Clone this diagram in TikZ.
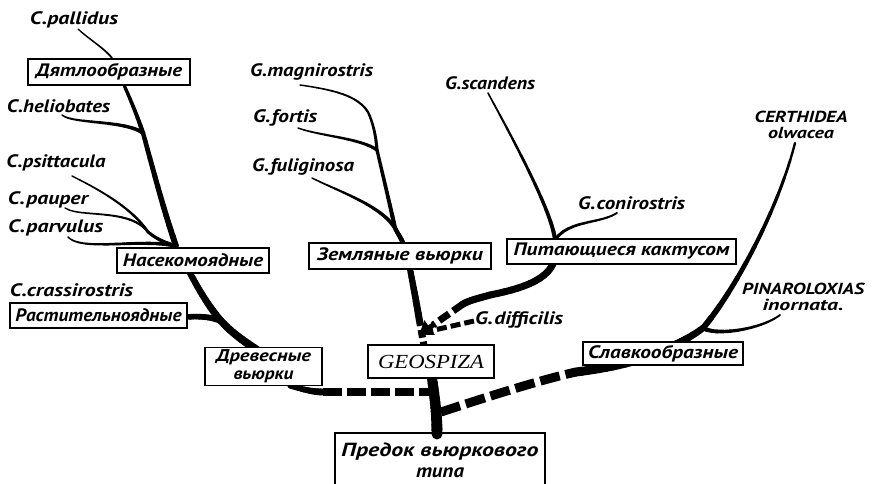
\documentclass[tikz,border=0pt]{standalone}
\usepackage{fontspec}
\usepackage{graphicx}
\setmainfont{PT Sans}
\newfontfamily\geofont{Liberation Serif}
\usetikzlibrary{arrows.meta}
\newcommand\fw[2]{\resizebox{#1pt}{\height}{#2}}
\newcommand\tcurve[8]{%
  \foreach \i in {0,...,11}{%
    \pgfmathsetmacro\ta{\i/12}%
    \pgfmathsetmacro\tb{(\i+1)/12}%
    \pgfmathsetmacro\w{#7+(#8-#7)*(\i+0.5)/12}%
    \pgfsetlinewidth{\w pt}\pgfsetroundcap
    \pgfpathcurvebetweentime{\ta}{\tb}{\pgfpointanchor{#1}{center}}{\pgfpointxy{#2}{#3}}{\pgfpointxy{#4}{#5}}{\pgfpointanchor{#6}{center}}%
    \pgfusepath{stroke}}}
\begin{document}
\begin{tikzpicture}[x=1pt,y=-1pt,
  lbl/.style={font=\fontsize{18}{19}\selectfont\bfseries\itshape, inner sep=0pt},
  box/.style={draw, line width=1.3pt, fill=white, font=\fontsize{18}{17}\selectfont\bfseries\itshape, inner sep=1pt},
  dsh/.style={line cap=butt},
]
\useasboundingbox (0,0) rectangle (875,484);

% ---------- labels ----------
\node[lbl] (pallidus) at (74,20) {\fw{88}{C.pallidus}};
\node[lbl] (helio) at (58.5,106) {\fw{103}{C.heliobates}};
\node[lbl] (psitt) at (56,163) {\fw{99}{C.psittacula}};
\node[lbl] (pauper) at (48,200) {\fw{80}{C.\kern1pt pauper}};
\node[lbl] (parv) at (55.5,228) {\fw{95}{C.\kern1pt parvulus}};
\node[lbl] (crass) at (71.5,290) {\fw{123}{C.crassirostris}};
\node[lbl] (magn) at (311.5,72) {\fw{123}{G.magnirostris}};
\node[lbl] (fort) at (285,118) {\fw{64}{G.\kern1pt fortis}};
\node[lbl] (fulig) at (303,167) {\fw{102}{G.\kern1pt fuliginosa}};
\node[lbl] (scand) at (490,83) {\fw{90}{G.scandens}};
\node[lbl] (conir) at (631.5,203) {\fw{107}{G.\kern1pt conirostris}};
\node[lbl] (diff) at (519,320) {\fw{88}{G.\kern1pt difficilis}};
\node[lbl, align=center, font=\fontsize{16}{16}\selectfont\bfseries\itshape] (cert) at (801,125) {\fw{93}{CERTHIDEA}\\\fw{66}{olwacea}};
\node[lbl, align=center, font=\fontsize{16}{16}\selectfont\bfseries\itshape] (pina) at (803,297) {\fw{122}{PINAROLOXIAS}\\\fw{81}{inornata.}};

% ---------- coordinates ----------
\coordinate (pal0) at (78,29);
\coordinate (pal1) at (112,58);
\coordinate (dyB) at (124,85);
\coordinate (jH) at (143,133);
\coordinate (jN) at (176,246);
\coordinate (nB) at (190,273);
\coordinate (jR) at (221,321);
\coordinate (dT) at (257,350);
\coordinate (he0) at (62,115);
\coordinate (ps0) at (72,176);
\coordinate (pa0) at (65,208);
\coordinate (pv0) at (68,237);
\coordinate (jP) at (148,232);
\coordinate (rR) at (187,317);
\coordinate (dBR) at (290,386);
\coordinate (dD) at (323,392);
\coordinate (tD) at (430,392);
\coordinate (mg0) at (300,85);
\coordinate (mg1) at (368,112);
\coordinate (jF) at (377,150);
\coordinate (jG) at (395,228);
\coordinate (zT) at (403,243);
\coordinate (zB) at (410,269);
\coordinate (zS) at (419,318);
\coordinate (gT) at (424,346);
\coordinate (fo0) at (298,128);
\coordinate (fu0) at (312,178);
\coordinate (sc0) at (488,93);
\coordinate (kT) at (555,240);
\coordinate (co0) at (617,213);
\coordinate (kB) at (553,264);
\coordinate (kM) at (490,295);
\coordinate (kS) at (463,304);
\coordinate (kA) at (433,325);
\coordinate (tip) at (419,335);
\coordinate (df0) at (474,321);
\coordinate (df1) at (430,331);
\coordinate (gB) at (432,378);
\coordinate (aT) at (437,434);
\coordinate (tW) at (441,412);
\coordinate (wS) at (576,372);
\coordinate (wM) at (650,356);
\coordinate (jPi) at (703,328);
\coordinate (ce0) at (795,143);
\coordinate (pi0) at (780,315);

% ---------- branches: tree finches ----------
\tcurve{pal0}{90}{40}{104}{48}{pal1}{1.3}{1.8}
\tcurve{dyB}{132}{103}{138}{118}{jH}{3.2}{4.4}
\tcurve{jH}{152}{165}{162}{205}{jN}{4.4}{6}
\tcurve{nB}{200}{292}{210}{308}{jR}{6.2}{7.2}
\tcurve{jR}{232}{333}{245}{342}{dT}{7.2}{8.2}
\tcurve{he0}{72}{124}{125}{120}{jH}{1.4}{4}
\tcurve{ps0}{100}{190}{132}{208}{jP}{1.3}{2.8}
\tcurve{pa0}{80}{218}{130}{208}{jP}{1.3}{2.4}
\tcurve{jP}{158}{240}{166}{243}{jN}{3}{3.8}
\tcurve{pv0}{82}{252}{140}{238}{jN}{1.4}{3.8}
\tcurve{rR}{200}{316}{212}{317}{jR}{5.5}{6}
\tcurve{dBR}{302}{389}{312}{392}{dD}{5}{7}
\draw[dsh, line width=8pt, dash pattern=on 19pt off 5pt] (dD) -- (tD);

% ---------- ground finches ----------
\tcurve{mg0}{335}{90}{358}{96}{mg1}{1.4}{2.3}
\tcurve{mg1}{374}{125}{376}{138}{jF}{2.3}{3.2}
\tcurve{jF}{384}{180}{390}{205}{jG}{3.2}{4.2}
\tcurve{jG}{398}{234}{401}{238}{zT}{4.2}{4.6}
\tcurve{fo0}{320}{136}{360}{138}{jF}{1.4}{3.4}
\tcurve{fu0}{340}{192}{380}{205}{jG}{1.4}{4}
\tcurve{zB}{413}{285}{416}{300}{zS}{6}{7}
\draw[dsh, line width=7pt, dash pattern=on 8pt off 4pt] (zS) -- (gT);

% ---------- cactus finches ----------
\tcurve{sc0}{508}{130}{552}{210}{kT}{1.5}{4.2}
\tcurve{co0}{600}{224}{568}{220}{kT}{1.8}{3.2}
\tcurve{kB}{545}{281}{520}{289}{kM}{7}{7}
\tcurve{kM}{480}{298}{470}{300}{kS}{7}{7}
\draw[dsh, line width=7pt, dash pattern=on 12pt off 5pt] (kS) -- (kA);
\draw[line width=5pt, -{Triangle[length=13pt,width=17pt]}] (kA) -- (tip);
\draw[dsh, line width=5pt, dash pattern=on 10pt off 4pt] (df0) -- (df1);

% ---------- trunk and warblers ----------
\tcurve{gB}{435}{400}{437}{415}{aT}{10}{11}
\draw[dsh, line width=9pt, dash pattern=on 20pt off 6pt] (tW) .. controls (490,396) and (540,380) .. (wS);
\tcurve{wS}{600}{369}{625}{365}{wM}{9}{8}
\tcurve{wM}{675}{345}{690}{338}{jPi}{8}{6.5}
\tcurve{jPi}{735}{290}{778}{210}{ce0}{6.2}{2.2}
\tcurve{jPi}{715}{336}{760}{330}{pi0}{4.4}{1.8}

% ---------- boxes ----------
\node[box, minimum width=162pt, minimum height=26pt] (dyatl) at (109,72) {\fw{146}{Дятлообразные}};
\node[box, minimum width=152pt, minimum height=25pt] (nasek) at (193,260.5) {\fw{140}{Насекомоядные}};
\node[box, minimum width=177pt, minimum height=25pt] (rast) at (98.5,315.5) {\fw{166}{Растительноядные}};
\node[box, minimum width=117pt, minimum height=38pt, align=center, font=\fontsize{17}{18}\selectfont\bfseries\itshape] (drev) at (263.5,366.5) {\fw{95}{Древесные}\\\fw{60}{вьюрки}};
\node[box, minimum width=182pt, minimum height=26pt] (zeml) at (400,256) {\fw{166}{Земляные вьюрки}};
\node[box, minimum width=229pt, minimum height=25pt] (kakt) at (621.5,251.5) {\fw{216}{Питающиеся кактусом}};
\node[box, minimum width=126pt, minimum height=33pt, font=\fontsize{20}{22}\selectfont\geofont\itshape] (geo) at (431,361.5) {\fw{106}{GEOSPIZA}};
\node[box, minimum width=160pt, minimum height=23pt] (slav) at (663,353.5) {\fw{150}{Славкообразные}};
\node[align=center, font=\fontsize{19}{21}\selectfont\bfseries\itshape, inner sep=0pt] (anc) at (440,460) {\fw{197}{Предок вьюркового}\\\fw{48}{типа}};
\draw[line width=1.3pt] (335,484) -- (335,433) -- (545,433) -- (545,484);
\end{tikzpicture}
\end{document}
